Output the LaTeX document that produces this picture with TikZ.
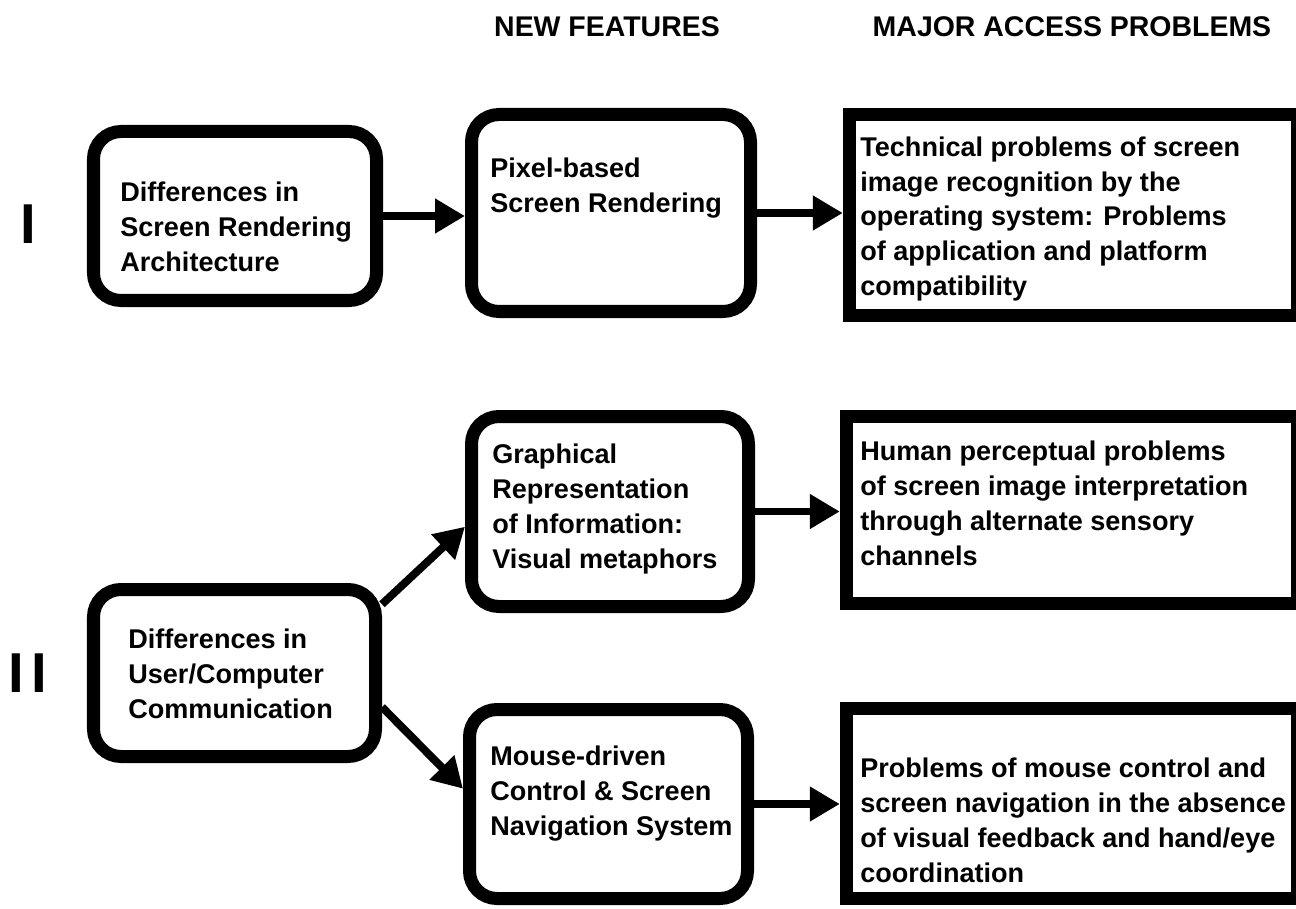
\documentclass[tikz,border=0pt]{standalone}
\usepackage{fontspec}
\setmainfont{Liberation Sans}
\usetikzlibrary{arrows.meta}
\tikzset{
  rbox/.style={draw, line width=7.4pt, rounded corners=0.55cm, inner sep=0pt},
  sbox/.style={draw, line width=7.6pt, inner sep=0pt},
  txt/.style={anchor=west, align=left, inner sep=0pt, font=\bfseries\fontsize{15.4}{19.9}\selectfont},
  hdr/.style={font=\bfseries\fontsize{16.2}{18}\selectfont, inner sep=0pt},
  roman/.style={font=\bfseries\fontsize{32}{36}\selectfont, inner sep=0pt},
  conn/.style={line width=4.5pt, -{Triangle[length=0.6cm,width=0.66cm]}},
}
\begin{document}
\begin{tikzpicture}[x=0.02cm, y=-0.02cm]
\path[use as bounding box, clip] (0,0) rectangle (1296,909);
\fill[white] (0,0) rectangle (1296,909);
% headers
\node[hdr] (h1) at (607,27) {NEW FEATURES};
\node[hdr] (h2) at (1072,27) {MAJOR ACCESS PROBLEMS};
% roman numerals
\node[roman] (r1) at (28,224) {I};
\node[roman] (r2) at (28,673) {I\hspace{4pt}I};
% boxes
\node[rbox, minimum width={283*0.02cm}, minimum height={169*0.02cm}] (A) at (235,216) {};
\node[rbox, minimum width={279*0.02cm}, minimum height={197*0.02cm}] (B) at (611,213) {};
\node[sbox, minimum width={448*0.02cm}, minimum height={201*0.02cm}] (C) at (1073.5,215) {};
\node[rbox, minimum width={277*0.02cm}, minimum height={190*0.02cm}] (D) at (610,511.5) {};
\node[sbox, minimum width={451*0.02cm}, minimum height={187*0.02cm}] (E) at (1072,510) {};
\node[rbox, minimum width={282*0.02cm}, minimum height={167*0.02cm}] (F) at (234.5,673) {};
\node[rbox, minimum width={278*0.02cm}, minimum height={189*0.02cm}] (G) at (608.5,804) {};
\node[sbox, minimum width={451*0.02cm}, minimum height={190*0.02cm}] (H) at (1072,803.5) {};
% texts
\node[txt] (tA) at (120,227) {Differences in\\Screen Rendering\\Architecture};
\node[txt] (tB) at (490,188.5) {Pixel-based\\Screen Rendering};
\node[txt] (tC) at (860,219) {Technical problems of screen\\image recognition by the\\operating system: Problems\\of application and platform\\compatibility};
\node[txt] (tD) at (492,509) {Graphical\\Representation\\of Information:\\Visual metaphors};
\node[txt] (tE) at (860,503) {Human perceptual problems\\of screen image interpretation\\through alternate sensory\\channels};
\node[txt] (tF) at (128,674) {Differences in\\User/Computer\\Communication};
\node[txt] (tG) at (490,794) {Mouse-driven\\Control \& Screen\\Navigation System};
\node[txt] (tH) at (860,820) {Problems of mouse control and\\screen navigation in the absence\\of visual feedback and hand/eye\\coordination};
% connectors
\draw[conn] (A.east) -- (A.east -| B.west);
\draw[conn] (B.east) -- (B.east -| C.west);
\draw[conn] (D.east) -- (D.east -| E.west);
\draw[conn] (G.east) -- (G.east -| H.west);
\draw[conn] (F.25.7) -- (D.186);
\draw[conn] (F.-13) -- (G.174);
\end{tikzpicture}
\end{document}
